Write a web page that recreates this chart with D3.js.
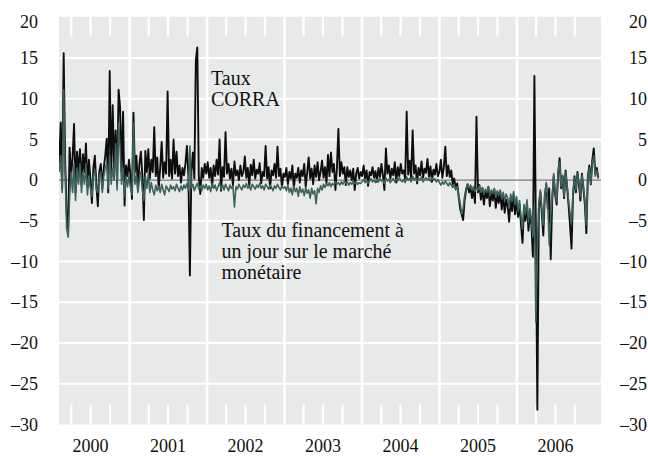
<!DOCTYPE html>
<html><head><meta charset="utf-8">
<script src="https://cdn.jsdelivr.net/npm/d3@7"></script>
<style>body{margin:0;background:#fff}svg{display:block}</style>
</head><body><svg id="c" width="648" height="456"></svg>
<script>
// ---- DATA (weekly readings, starting 2000-02-04) ----
const firstWeek = "2000-02-04";
const stepDays = 7;

const corra2000 = [2.0,7.1,-1.0,15.6,2.5,-4.0,-6.8,4.0,0.5,2.8,6.9,-1.5,3.5,0.8,3.8,-0.5,3.2,1.0,4.5,-0.8,2.5,0.2,-2.8,1.5,3.0,-0.5,-3.2,1.0,2.0,-1.0,1.5,3.0,5.1,-1.5,13.4,0.5,9.2,1.5,6.1,-0.5,11.1,8.9,1.0,8.4,-3.1,1.8,0.5];
const corra2001 = [2.5,0.5,-2.3,8.3,1.0,3.0,-1.0,2.0,3.5,0.5,-4.9,3.6,1.0,3.8,0.2,2.5,1.0,6.5,0.5,2.8,-1.0,1.5,4.7,0.3,2.2,0.8,10.9,0.5,2.5,0.2,5.0,0.8,3.5,0.5,1.8,-0.3,1.5,0.6,2.0,4.2,0.5,-11.7,1.0,3.4,0.2,14.7,16.3,0.5,-1.7,1.5,0.3,2.0];
const corra2002 = [0.8,2.2,0.3,1.5,-0.8,1.8,0.5,2.5,0.7,5.0,-1.3,1.6,0.4,5.9,0.8,2.0,0.2,1.4,-0.6,2.3,0.6,1.2,0.0,1.8,0.5,1.0,2.9,0.3,1.5,-0.7,1.9,0.6,2.5,0.2,1.3,0.8,2.1,-0.4,1.0,0.5,4.2,0.2,1.6,-1.0,1.2,0.6,2.0,0.3,4.1,0.5,1.4,-0.9,0.8];
const corra2003 = [0.4,1.5,-0.5,1.0,0.2,1.8,-1.0,0.8,0.3,1.5,-0.3,1.2,0.5,2.0,-0.8,0.9,2.8,0.2,1.4,-0.5,1.8,0.4,2.2,0.0,1.0,2.4,0.3,1.6,-0.4,3.1,0.5,3.4,1.0,2.0,-1.2,1.5,6.3,0.5,2.2,0.8,1.6,-0.6,1.6,0.4,1.2,0.0,1.4,-1.2,0.8,1.5,0.2,1.0];
const corra2004 = [0.5,1.8,0.2,1.2,-0.7,1.0,0.6,1.6,0.3,1.1,-0.2,1.5,0.4,2.0,0.6,-1.2,3.9,0.8,1.8,0.2,1.4,0.6,2.2,-0.3,1.6,0.5,2.0,0.8,1.2,0.1,8.4,0.7,2.4,0.2,6.1,0.8,1.8,-0.4,1.5,0.6,2.3,0.3,1.4,0.9,2.6,0.4,1.7,-0.2,1.3,0.7,2.0,0.5];
const corra2005 = [1.0,2.5,0.3,1.6,4.1,0.5,1.8,0.4,1.2,-0.5,0.2,-1.0,-0.4,-2.0,-3.5,-4.2,-4.9,-2.5,-1.2,-0.5,-1.5,-0.8,-2.2,-1.0,-2.8,7.8,-1.5,-0.6,-2.4,-1.0,-3.0,-1.4,-2.2,-0.8,-3.2,-1.6,-2.5,-1.2,-3.4,-1.8,-2.8,-1.5,-3.6,-2.0,-4.0,-2.4,-3.2,-5.1,-2.2,-3.8,-1.8,-4.2];
const corra2006 = [-2.5,-4.5,-3.0,-5.5,-7.7,-3.5,-5.0,-2.8,-6.2,-4.0,-5.5,-9.4,12.8,-6.0,-28.2,-3.5,-1.5,-4.0,-6.8,-2.0,-0.5,-3.5,-1.0,-9.7,-2.5,0.5,-1.8,-3.0,0.8,2.7,-1.0,0.5,-2.2,1.2,-0.8,-3.0,-5.5,-8.4,-2.0,0.5,-1.5,1.0,-0.5,-2.5,0.8,-1.0,-3.0,-6.5,0.5,1.8,-0.5,2.5,3.9,0.8,1.5,0.3];

const fin2000 = [1.0,3.0,-1.5,11.1,1.0,-5.9,-7.0,-2.0,1.0,-1.5,2.0,-2.5,1.5,-0.5,2.0,-1.5,1.0,-0.5,2.0,-1.8,0.5,-1.0,-2.0,0.5,1.2,-1.2,-1.5,0.3,1.0,-1.5,0.5,1.5,2.0,-1.0,3.0,-0.5,1.5,0.0,4.5,-1.2,7.0,4.0,-0.5,1.5,-2.0,0.5,-0.8];
const fin2001 = [0.5,-1.0,-1.8,7.0,-0.5,0.5,-1.5,0.2,1.0,-1.2,-2.5,0.5,-1.0,0.8,-1.5,-0.3,-1.2,-1.8,-0.6,-1.3,-0.8,-1.5,-0.5,-1.2,-1.8,-0.7,-1.0,-1.4,-0.6,-1.1,-0.8,-1.3,-0.5,-1.0,-1.4,-0.7,-1.2,-0.6,-1.0,-0.4,-1.2,4.2,-1.0,-0.5,-1.3,-0.8,-0.4,-1.1,-0.7,-1.3,-0.6,-1.0];
const fin2002 = [-0.5,-1.2,-0.7,-1.4,-0.4,-1.0,-0.6,-1.3,-0.8,-0.3,-1.1,-0.6,-1.2,-0.5,-0.9,-1.3,-0.6,-1.0,-0.7,-3.3,-0.8,-1.1,-0.5,-0.9,-1.2,-0.6,-0.9,-0.4,-1.0,-0.7,-1.2,-0.5,-0.8,-1.1,-0.6,-0.9,-0.4,-1.0,-0.7,-1.2,-0.5,-0.8,-1.1,-0.6,-0.9,-1.3,-0.7,-1.0,-0.5,-0.9,-1.2,-0.7,-1.0];
const fin2003 = [-0.8,-1.3,-0.6,-1.5,-1.0,-1.8,-0.7,-1.4,-1.0,-2.0,-0.8,-1.5,-1.1,-1.9,-0.9,-1.6,-1.2,-2.2,-1.0,-1.7,-1.3,-2.9,-1.0,-1.5,-0.7,-1.2,-0.5,-0.9,-0.4,-0.7,-0.3,-0.8,-0.4,-0.6,-0.2,-0.5,-0.3,-0.6,-0.2,-0.5,-0.1,-0.4,-0.2,-0.6,-0.3,-0.5,-0.1,-0.4,-0.2,-0.5,-0.3,-0.4];
const fin2004 = [-0.2,0.1,-0.3,0.0,-0.4,-0.1,0.2,-0.2,0.0,-0.3,0.1,-0.2,0.2,-0.1,0.0,-0.4,0.3,-0.1,0.1,-0.3,0.0,0.2,-0.2,0.1,-0.1,0.3,0.0,-0.2,0.1,-0.3,0.4,0.0,0.2,-0.2,0.5,0.0,0.3,-0.1,0.2,0.0,0.4,-0.2,0.1,0.3,0.0,0.2,-0.1,0.3,0.0,0.2,-0.2,0.1];
const fin2005 = [-0.3,-0.6,-0.2,-0.5,-0.1,-0.4,-0.7,-0.3,-0.6,-0.9,-0.5,-1.2,-0.8,-1.8,-2.8,-4.1,-3.5,-2.0,-1.0,-0.6,-1.0,-0.6,-1.2,-0.8,-1.4,-0.9,-1.3,-0.7,-1.5,-0.9,-1.7,-1.1,-1.5,-0.8,-1.9,-1.2,-1.6,-1.0,-2.1,-1.3,-1.8,-1.2,-2.3,-1.5,-2.5,-1.7,-2.2,-3.4,-1.7,-2.6,-1.4,-3.0];
const fin2006 = [-2.0,-3.8,-2.5,-4.5,-6.0,-3.0,-4.2,-2.4,-5.2,-3.5,-4.8,-7.0,-3.0,-17.4,-8.0,-3.0,-1.2,-3.5,-5.5,-1.8,-0.3,-3.0,-8.0,-4.5,-2.0,0.8,-1.5,-2.6,1.0,2.2,-0.8,0.6,-2.0,1.0,-0.6,-2.5,-4.0,-5.2,-1.6,0.3,-1.2,0.8,-0.4,-2.0,0.6,-0.8,-2.5,-5.5,0.2,1.5,-0.4,2.0,3.0,0.5,1.2,0.2];

const yTickValues = [-30,-25,-20,-15,-10,-5,0,5,10,15,20];
const yearLabels = ["2000","2001","2002","2003","2004","2005","2006"];
const gridYears = [2001,2002,2003,2004,2005,2006];
const quarterMonths = [3,6,9];
const labelCorra = ["Taux","CORRA"];
const labelFin = ["Taux du financement à","un jour sur le marché","monétaire"];

// ---- LAYOUT ----
const L = 59, R = 601, T = 17.3, B = 424.5;
const svg = d3.select("#c");
const FONT = "'Liberation Serif','Times New Roman',serif";

const x = d3.scaleUtc()
  .domain([new Date(Date.UTC(2000,1,3)), new Date(Date.UTC(2007,1,1))])
  .range([L, R]);
const y = d3.scaleLinear().domain([-30, 20]).range([B, T]);

const start = new Date(firstWeek + "T00:00:00Z");
function toSeries(vals){ return vals.map((v,i)=>({d:d3.utcDay.offset(start, i*stepDays), v})); }
const corra = toSeries([].concat(corra2000,corra2001,corra2002,corra2003,corra2004,corra2005,corra2006));
const fin = toSeries([].concat(fin2000,fin2001,fin2002,fin2003,fin2004,fin2005,fin2006));

// background
svg.append("rect").attr("x",L).attr("y",T-0.5).attr("width",R-L).attr("height",B-T+0.5).attr("fill","#e8eae9");

// horizontal grid
svg.append("g").selectAll("line").data(yTickValues.filter(v=>v!==0 && v!==-30 && v!==20)).join("line")
  .attr("x1",L).attr("x2",R).attr("y1",d=>y(d)).attr("y2",d=>y(d))
  .attr("stroke","#fff").attr("stroke-width",2);

// vertical year grid
svg.append("g").selectAll("line").data(gridYears).join("line")
  .attr("x1",d=>x(new Date(Date.UTC(d,0,1)))).attr("x2",d=>x(new Date(Date.UTC(d,0,1))))
  .attr("y1",T-0.5).attr("y2",B)
  .attr("stroke","#fff").attr("stroke-width",2.5);

// quarter ticks (inside, top & bottom)
const qDates = [];
yearLabels.forEach(yl=>quarterMonths.forEach(m=>qDates.push(new Date(Date.UTC(+yl,m,1)))));
const qIn = qDates.filter(d=>x(d)>L && x(d)<R);
const tg = svg.append("g");
tg.selectAll("line.t").data(qIn).join("line").attr("class","t")
  .attr("x1",d=>x(d)).attr("x2",d=>x(d)).attr("y1",T-0.5).attr("y2",T+19)
  .attr("stroke","#fff").attr("stroke-width",2.2);
tg.selectAll("line.b").data(qIn).join("line").attr("class","b")
  .attr("x1",d=>x(d)).attr("x2",d=>x(d)).attr("y1",B-20).attr("y2",B)
  .attr("stroke","#fff").attr("stroke-width",2.2);

// zero line
svg.append("line").attr("x1",L).attr("x2",R).attr("y1",y(0)).attr("y2",y(0))
  .attr("stroke","#7a7a7a").attr("stroke-width",1.3);

// clip
svg.append("clipPath").attr("id","clip").append("rect").attr("x",L).attr("y",T-1).attr("width",R-L).attr("height",B-T+1);

const line = d3.line().x(d=>x(d.d)).y(d=>y(d.v));
const dg = svg.append("g").attr("clip-path","url(#clip)");
dg.append("path").datum(corra).attr("d",line).attr("fill","none")
  .attr("stroke","#0d0d0d").attr("stroke-width",1.9).attr("stroke-linejoin","round");
dg.append("path").datum(fin).attr("d",line).attr("fill","none")
  .attr("stroke","#3d625c").attr("stroke-width",1.6).attr("stroke-linejoin","round");

// y labels both sides
function fmt(v){ return v<0 ? "\u2013"+Math.abs(v) : String(v); }
function ly(v){ return Math.max(y(v), T+4.4); }
[38, 647].forEach(ax=>{
  svg.append("g").selectAll("text").data(yTickValues).join("text")
    .attr("x",ax).attr("y",d=>ly(d)).attr("dy","0.34em")
    .attr("text-anchor","end").attr("font-family",FONT).attr("font-size",18).attr("fill","#111")
    .text(d=>fmt(d));
});

// year labels
svg.append("g").selectAll("text").data(yearLabels).join("text")
  .attr("x",d=>x(new Date(Date.UTC(+d,6,1)))).attr("y",451.5)
  .attr("text-anchor","middle").attr("font-family",FONT).attr("font-size",18).attr("fill","#111")
  .text(d=>d);

// annotations
svg.append("g").selectAll("text").data(labelCorra).join("text")
  .attr("x",211).attr("y",(d,i)=>85+i*21)
  .attr("font-family",FONT).attr("font-size",20).attr("fill","#111").text(d=>d);
svg.append("g").selectAll("text").data(labelFin).join("text")
  .attr("x",221.5).attr("y",(d,i)=>236.7+i*21)
  .attr("font-family",FONT).attr("font-size",20).attr("fill","#111").text(d=>d);
</script>
</body></html>
